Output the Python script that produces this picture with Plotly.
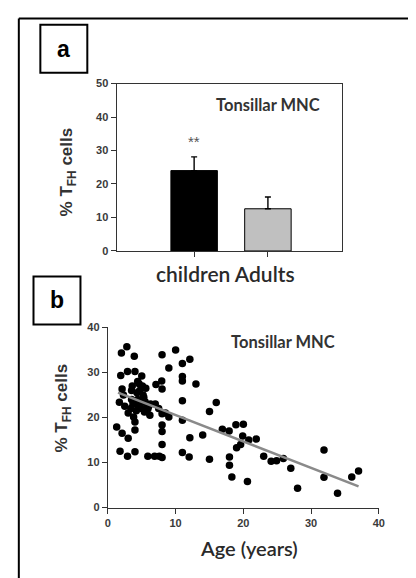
import plotly.graph_objects as go

W, H = 416, 578

# ---- Panel a data ----
categories = ["children", "Adults"]
bar_values = [24.0, 12.6]
bar_errors = [4.1, 3.5]
bar_colors = ["#000000", "#c0c0c0"]

# ---- Panel b data ----
ages = [1.3, 1.7, 1.9, 2.0, 2.1, 2.1, 1.8,
        2.8, 2.9, 3.0, 2.9, 3.0, 2.5, 2.3,
        3.9, 4.0, 4.0, 3.8, 4.0, 4.0, 3.5, 3.4, 3.6, 3.5, 3.7,
        4.3, 4.4, 4.5, 4.2, 4.6, 4.4, 4.7, 4.8,
        5.0, 5.1, 5.2, 5.3, 5.0, 5.5, 5.4, 5.6, 5.8,
        5.9, 6.2, 6.3, 5.9, 6.9, 6.0,
        7.1, 7.0, 7.5, 7.95, 8.0, 8.0, 8.0, 8.0, 8.0, 8.0, 8.0, 7.6,
        9.0, 9.0, 8.5,
        10.0, 11.0, 12.1, 11.0, 11.0, 11.0, 11.0, 11.0, 12.0, 12.1,
        13.0, 14.0, 15.0, 15.0, 16.0, 16.9, 17.9, 17.95, 17.95, 18.3, 19.0, 18.9, 20.0,
        19.9, 20.8, 21.9, 20.6, 19.6, 23.0, 24.1, 24.9, 25.9, 27.0, 28.0,
        31.9, 31.9, 33.9, 36.0, 37.0]
tfh = [17.9, 23.4, 29.3, 34.3, 26.3, 16.5, 12.5,
       35.7, 30.2, 15.4, 11.4, 21.0, 22.5, 25.0,
       33.6, 30.2, 12.4, 20.1, 19.0, 17.2, 24.0, 22.0, 27.0, 26.0, 23.0,
       25.5, 24.0, 22.5, 21.5, 27.5, 28.0, 26.0, 23.2,
       29.2, 27.0, 25.0, 24.5, 22.0, 23.5, 21.2, 26.5, 22.8,
       21.9, 20.5, 23.0, 11.4, 11.4, 22.4,
       27.3, 23.0, 22.0, 28.1, 33.9, 26.3, 20.8, 18.3, 16.9, 14.0, 11.1, 11.4,
       31.0, 20.1, 21.0,
       35.0, 32.0, 32.9, 29.1, 28.1, 23.7, 19.4, 12.2, 11.2, 15.5,
       27.4, 16.1, 21.3, 10.7, 23.3, 17.4, 17.0, 11.2, 9.4, 6.8, 13.3, 18.4, 18.5,
       15.9, 15.0, 15.2, 5.8, 14.0, 11.4, 10.3, 10.4, 10.9, 8.7, 4.3,
       12.8, 6.7, 3.2, 6.8, 8.1]
fit_x = [1.5, 37.0]
fit_y = [25.5, 4.7]

y_ticks_a = [0, 10, 20, 30, 40, 50]
y_ticks_b = [0, 10, 20, 30, 40]
x_ticks_b = [0, 10, 20, 30, 40]


def px(x):
    return x / W


def py(y):
    return 1 - y / H


fig = go.Figure()

fig.add_trace(go.Bar(
    x=categories, y=bar_values, width=0.63,
    marker=dict(color=bar_colors, line=dict(color="#000000", width=1)),
    error_y=dict(type="data", symmetric=False, array=bar_errors,
                 arrayminus=[0, 0], color="#000000", thickness=1.4, width=3),
    xaxis="x", yaxis="y", showlegend=False,
))

fig.add_trace(go.Scatter(
    x=ages, y=tfh, mode="markers",
    marker=dict(color="#000000", size=7.5, symbol="circle"),
    xaxis="x2", yaxis="y2", showlegend=False,
))
fig.add_trace(go.Scatter(
    x=fit_x, y=fit_y, mode="lines",
    line=dict(color="#8a8a8a", width=2.5),
    xaxis="x2", yaxis="y2", showlegend=False,
))

tickfont = dict(family="Liberation Sans", size=11, color="#3a3a3a", weight="bold")

fig.update_layout(
    width=W, height=H,
    margin=dict(l=0, r=0, t=0, b=0),
    paper_bgcolor="white", plot_bgcolor="white",
    xaxis=dict(domain=[px(108), px(338)], anchor="y", type="category",
               range=[-1.05, 2.0], showticklabels=False, ticks="outside",
               ticklen=5, tickcolor="#333", showline=True, linecolor="#333",
               linewidth=1.2, mirror=True, showgrid=False, zeroline=False),
    yaxis=dict(domain=[py(242), py(71)], anchor="x", range=[0, 50],
               tickvals=y_ticks_a, ticks="outside", ticklen=5, tickcolor="#333",
               showline=True, linecolor="#333", linewidth=1.2, mirror=True,
               showgrid=False, zeroline=False, tickfont=tickfont),
    xaxis2=dict(domain=[px(99), px(376)], anchor="y2", range=[0, 40],
                tickvals=x_ticks_b, ticks="outside", ticklen=5, tickcolor="#333",
                showline=True, linecolor="#333", linewidth=1.2, showgrid=False,
                zeroline=False, tickfont=tickfont),
    yaxis2=dict(domain=[py(504), py(320)], anchor="x2", range=[0, 40],
                tickvals=y_ticks_b, ticks="outside", ticklen=5, tickcolor="#333",
                showline=True, linecolor="#333", linewidth=1.2, showgrid=False,
                zeroline=False, tickfont=tickfont),
)

shapes = [
    # outer frame (top and left edges)
    dict(type="line", xref="paper", yref="paper", x0=px(8), x1=1.0, y0=py(4.5), y1=py(4.5),
         line=dict(color="#000", width=2)),
    dict(type="line", xref="paper", yref="paper", x0=px(8), x1=px(8), y0=py(4.5), y1=0,
         line=dict(color="#000", width=2)),
    # panel label boxes
    dict(type="rect", xref="paper", yref="paper", x0=px(30), x1=px(78), y0=py(60), y1=py(11),
         line=dict(color="#000", width=2)),
    dict(type="rect", xref="paper", yref="paper", x0=px(23), x1=px(71), y0=py(317), y1=py(268),
         line=dict(color="#000", width=2)),
]

ann = [
    dict(text="<b>a</b>", x=px(54), y=py(36), font=dict(family="Liberation Sans", size=23, color="#000")),
    dict(text="<b>b</b>", x=px(47), y=py(292), font=dict(family="Liberation Sans", size=23, color="#000")),
    dict(text="<b>Tonsillar MNC</b>", x=px(263), y=py(93),
         font=dict(family="Lato", size=16.5, color="#333333")),
    dict(text="<b>Tonsillar MNC</b>", x=px(278), y=py(335),
         font=dict(family="Lato", size=16.5, color="#333333")),
    dict(text="**", x=px(187), y=py(130), font=dict(family="Liberation Sans", size=15, color="#555")),
    dict(text="children Adults", x=px(219), y=py(265),
         font=dict(family="Lato", size=21, color="#2a2a2a", weight=600)),
    dict(text="Age (years)", x=px(243), y=py(545),
         font=dict(family="Lato", size=20, color="#2a2a2a", weight=600)),
    dict(text="<b>% T<sub>FH</sub> cells</b>", x=px(58), y=py(161), textangle=-90,
         font=dict(family="Liberation Sans", size=17, color="#333")),
    dict(text="<b>% T<sub>FH</sub> cells</b>", x=px(53), y=py(402), textangle=-90,
         font=dict(family="Liberation Sans", size=17, color="#333")),
]
for a in ann:
    a.update(xref="paper", yref="paper", showarrow=False, xanchor="center", yanchor="middle")

fig.update_layout(shapes=shapes, annotations=ann)

fig.write_html("out.html")
